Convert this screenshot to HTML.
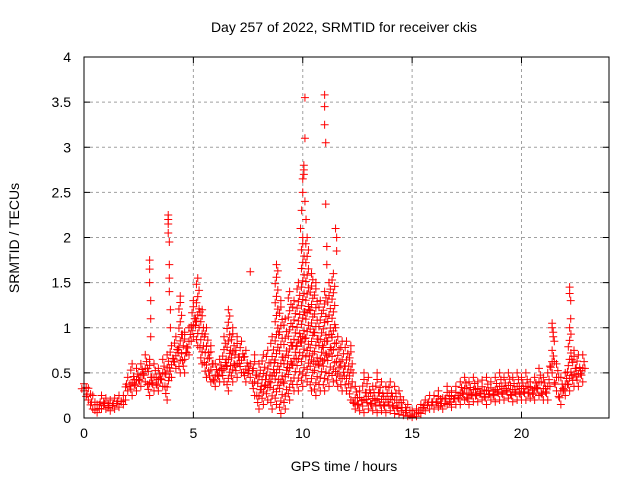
<!DOCTYPE html>
<html><head><meta charset="utf-8"><style>
body{margin:0;background:#fff;}
svg{display:block;font-family:"Liberation Sans",sans-serif;}
</style></head><body>
<svg id="chart" width="640" height="480">
<text x="344" y="32" font-size="14" text-anchor="middle">Day 257 of 2022, SRMTID for receiver ckis</text>
<text x="344" y="471" font-size="14" text-anchor="middle">GPS time / hours</text>
<text transform="translate(19,238) rotate(-90)" font-size="14" text-anchor="middle">SRMTID / TECUs</text>
<g id="grid"></g><g id="ticks"></g><g id="marks"></g>
<rect x="84" y="57" width="525" height="361" fill="none" stroke="#000" stroke-width="1"/>
</svg>
<script>
const xTicks=[0,5,10,15,20];
const yTicks=[0,0.5,1,1.5,2,2.5,3,3.5,4];
const yTickLabels=["0","0.5","1","1.5","2","2.5","3","3.5","4"];
const times=[
0,0.2,0.4,0.6,0.8,1.0,1.2,1.4,1.6,1.8,
2.0,2.2,2.4,2.6,2.8,3.0,3.2,3.4,3.6,3.8,
4.0,4.2,4.4,4.6,4.8,5.0,5.2,5.4,5.6,5.8,
6.0,6.2,6.4,6.6,6.8,7.0,7.2,7.4,7.6,7.8,
8.0,8.2,8.4,8.6,8.8,9.0,9.2,9.4,9.6,9.8,
10.0,10.2,10.4,10.6,10.8,11.0,11.2,11.4,11.6,11.8,
12.0,12.2,12.4,12.6,12.8,13.0,13.2,13.4,13.6,13.8,
14.0,14.2,14.4,14.6,14.8,15.0,15.2,15.4,15.6,15.8,
16.0,16.2,16.4,16.6,16.8,17.0,17.2,17.4,17.6,17.8,
18.0,18.2,18.4,18.6,18.8,19.0,19.2,19.4,19.6,19.8,
20.0,20.2,20.4,20.6,20.8,21.0,21.2,21.4,21.6,21.8,
22.0,22.2,22.4,22.6,22.8];
const valuesHigh=[
0.38,0.33,0.25,0.15,0.25,0.22,0.2,0.22,0.25,0.25,
0.45,0.6,0.55,0.6,0.7,0.65,0.6,0.55,0.65,0.7,
0.8,0.9,1.35,0.95,1.0,1.3,1.55,1.2,1.0,0.8,
0.6,0.65,0.9,1.2,1.0,0.9,0.85,0.75,0.6,0.7,
0.6,0.7,0.75,0.9,1.7,1.3,1.1,1.4,1.3,1.5,
2.0,2.0,1.6,1.5,1.3,1.4,1.5,1.6,0.9,0.85,
0.85,0.8,0.35,0.3,0.5,0.45,0.35,0.5,0.4,0.35,
0.4,0.35,0.3,0.2,0.15,0.08,0.1,0.15,0.2,0.25,
0.25,0.3,0.22,0.35,0.3,0.35,0.4,0.45,0.4,0.45,
0.4,0.42,0.45,0.4,0.45,0.5,0.45,0.5,0.45,0.5,
0.45,0.5,0.4,0.45,0.55,0.45,0.5,0.75,0.6,0.45,
0.5,1.0,0.75,0.7,0.7];
const valuesLow=[
0.3,0.2,0.1,0.06,0.1,0.1,0.08,0.1,0.12,0.15,
0.3,0.25,0.3,0.35,0.4,0.25,0.3,0.3,0.35,0.2,
0.45,0.55,0.5,0.5,0.7,0.9,0.8,0.6,0.45,0.4,
0.35,0.4,0.4,0.3,0.4,0.45,0.5,0.4,0.45,0.25,
0.1,0.15,0.2,0.1,0.15,0.05,0.1,0.2,0.3,0.3,
0.35,0.4,0.3,0.25,0.3,0.3,0.35,0.4,0.35,0.3,
0.3,0.2,0.1,0.08,0.06,0.1,0.08,0.06,0.08,0.06,
0.08,0.05,0.04,0.03,0.02,0.01,0.02,0.05,0.08,0.1,
0.1,0.12,0.1,0.15,0.12,0.15,0.15,0.2,0.15,0.18,
0.18,0.2,0.15,0.2,0.18,0.2,0.2,0.22,0.18,0.2,
0.2,0.2,0.22,0.2,0.25,0.2,0.2,0.5,0.3,0.15,
0.25,0.3,0.35,0.35,0.4];
const spikeTimes=[3.0,3.0,3.0,3.05,3.05,3.05,3.85,3.85,3.85,3.85,3.9,3.9,3.9,3.9,3.95,3.95,7.6,
9.9,9.95,10.0,10.0,10.05,10.05,10.05,10.1,10.1,10.1,10.15,
11.0,11.0,11.0,11.05,11.05,11.1,11.1,11.5,11.55,11.55,
21.4,21.4,21.45,21.45,21.5,22.2,22.2,22.25,22.25];
const spikeValues=[1.75,1.65,1.5,1.3,1.1,0.9,2.25,2.2,2.15,2.05,1.95,1.7,1.55,1.4,1.2,1.0,1.62,
2.1,2.3,2.5,2.65,2.7,2.75,2.8,3.1,3.55,2.4,2.2,
3.58,3.45,3.25,3.05,2.37,1.9,1.7,2.1,2.0,1.85,
1.05,1.0,0.95,0.9,0.85,1.45,1.38,1.3,1.1];
const NS="http://www.w3.org/2000/svg";
const X0=84,X1=609,Y0=418,Y1=57;
const xs=t=>X0+(t/24)*(X1-X0);
const ys=v=>Y0-(v/4)*(Y0-Y1);
const g=document.getElementById('grid'),tk=document.getElementById('ticks'),m=document.getElementById('marks');
function mk(tag,attrs,parent){const e=document.createElementNS(NS,tag);for(const k in attrs)e.setAttribute(k,attrs[k]);parent.appendChild(e);return e;}
xTicks.forEach(t=>{const x=xs(t);
 if(t>0){const l=mk('line',{x1:x,x2:x,y1:Y1,y2:Y0,stroke:'#a0a0a0','stroke-dasharray':'3,3'},g);
 
 }
 mk('line',{x1:x,x2:x,y1:Y0,y2:Y0-6,stroke:'#000'},tk);mk('line',{x1:x,x2:x,y1:Y1,y2:Y1+6,stroke:'#000'},tk);
 const tx=mk('text',{x:x,y:Y0+20,'font-size':14,'text-anchor':'middle'},tk);tx.textContent=t;
 
 });
yTicks.forEach((v,i)=>{const y=ys(v);
 if(v>0&&v<4){const l=mk('line',{x1:X0,x2:X1,y1:y,y2:y,stroke:'#a0a0a0','stroke-dasharray':'3,3'},g);
 
 }
 mk('line',{x1:X0,x2:X0+6,y1:y,y2:y,stroke:'#000'},tk);mk('line',{x1:X1,x2:X1-6,y1:y,y2:y,stroke:'#000'},tk);
 const tx=mk('text',{x:X0-13,y:y+5,'font-size':14,'text-anchor':'end'},tk);tx.textContent=yTickLabels[i];
 
 });
function plus(t,v){const x=xs(t),y=ys(v);
 const p=mk('path',{d:`M${x-4},${y}H${x+4}M${x},${y-4}V${y+4}`,stroke:'#ff0000','stroke-width':1,fill:'none'},m);
 
 }
times.forEach((t,i)=>{const hi=valuesHigh[i],lo=valuesLow[i];
 plus(t,hi);plus(t,lo);
 const n=Math.max(1,Math.round((hi-lo)/0.07));
 for(let k=1;k<n;k++){const off=[0.06,-0.06,0.0][k%3];plus(t+off,lo+(hi-lo)*k/n);}
 plus(t+0.1,(hi+lo)/2);plus(t-0.1,lo+(hi-lo)*0.3);});
spikeTimes.forEach((t,i)=>plus(t,spikeValues[i]));
</script>
</body></html>
